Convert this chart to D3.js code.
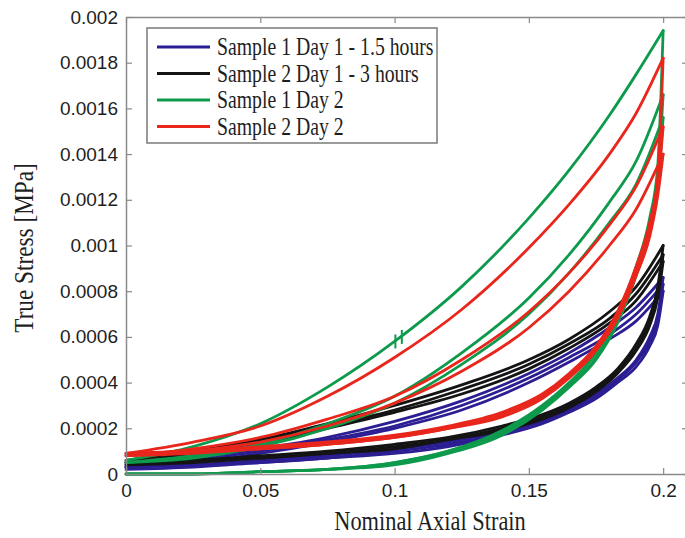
<!DOCTYPE html>
<html>
<head>
<meta charset="utf-8">
<script src="https://cdn.jsdelivr.net/npm/d3@7/dist/d3.min.js"></script>
<style>
  html, body { margin: 0; padding: 0; background: #fff; }
  svg { display: block; }
</style>
</head>
<body>
<svg id="chart" width="685" height="538"></svg>
<script>
// ---- data: cyclic loading / unloading of four specimens ----
const seriesNames = ["Sample 1 Day 1 - 1.5 hours", "Sample 2 Day 1 - 3 hours", "Sample 1 Day 2", "Sample 2 Day 2"];
const seriesColors = ["#2b1d92", "#141414", "#0e9a4c", "#e8261c"];

const xTickValues = [0, 0.05, 0.1, 0.15, 0.2];
const xTickLabels = ["0", "0.05", "0.1", "0.15", "0.2"];
const yTickValues = [0, 0.0002, 0.0004, 0.0006, 0.0008, 0.001, 0.0012, 0.0014, 0.0016, 0.0018, 0.002];
const yTickLabels = ["0", "0.0002", "0.0004", "0.0006", "0.0008", "0.001", "0.0012", "0.0014", "0.0016", "0.0018", "0.002"];

// strain samples for the loading branches
const strainLoad = [0, 0.025, 0.05, 0.075, 0.1, 0.125, 0.15, 0.165, 0.18, 0.19, 0.2];
// strain samples for the unloading branches
const strainUnload = [0, 0.025, 0.05, 0.075, 0.1, 0.12, 0.14, 0.155, 0.165, 0.175, 0.183, 0.19, 0.195, 0.198, 0.2];

// Sample 1 Day 1 - 1.5 hours (stress, MPa)
const blueLoad = [
  [0.00004, 0.00007, 0.00011, 0.00016, 0.00023, 0.00032, 0.00044, 0.00053, 0.00064, 0.00073, 0.00086],
  [0.00003, 0.00006, 0.00010, 0.00015, 0.00021, 0.00030, 0.00042, 0.00051, 0.00061, 0.00070, 0.00083],
  [0.00003, 0.00005, 0.00009, 0.00014, 0.00020, 0.00028, 0.00040, 0.00049, 0.00059, 0.00067, 0.00080]
];
const blueUnload = [
  [0.00003, 0.00004, 0.00006, 0.00008, 0.00011, 0.00014, 0.00019, 0.00024, 0.00029, 0.00035, 0.00042, 0.00050, 0.00060, 0.00070, 0.00086],
  [0.00003, 0.00004, 0.00005, 0.00007, 0.00010, 0.00013, 0.00018, 0.00023, 0.00028, 0.00034, 0.00041, 0.00049, 0.00058, 0.00068, 0.00083],
  [0.00002, 0.00003, 0.00005, 0.00007, 0.00009, 0.00012, 0.00017, 0.00022, 0.00027, 0.00033, 0.00040, 0.00047, 0.00056, 0.00065, 0.00080]
];

// Sample 2 Day 1 - 3 hours
const blackLoad = [
  [0.00006, 0.00010, 0.00015, 0.00022, 0.00030, 0.00039, 0.00050, 0.00059, 0.00071, 0.00082, 0.00100],
  [0.00005, 0.00009, 0.00014, 0.00021, 0.00028, 0.00037, 0.00048, 0.00057, 0.00068, 0.00079, 0.00096],
  [0.00005, 0.00008, 0.00013, 0.00020, 0.00027, 0.00035, 0.00046, 0.00055, 0.00066, 0.00076, 0.00093]
];
const blackUnload = [
  [0.00005, 0.00006, 0.00008, 0.00010, 0.00013, 0.00016, 0.00021, 0.00026, 0.00031, 0.00038, 0.00046, 0.00057, 0.00069, 0.00082, 0.00100],
  [0.00005, 0.00006, 0.00007, 0.00009, 0.00012, 0.00015, 0.00020, 0.00025, 0.00030, 0.00037, 0.00045, 0.00055, 0.00067, 0.00079, 0.00096],
  [0.00004, 0.00005, 0.00007, 0.00009, 0.00011, 0.00015, 0.00019, 0.00024, 0.00029, 0.00036, 0.00044, 0.00054, 0.00065, 0.00077, 0.00093]
];

// Sample 1 Day 2
const greenLoad = [
  [0.00006, 0.00012, 0.00022, 0.00038, 0.00058, 0.00082, 0.00112, 0.00133, 0.00157, 0.00175, 0.00194],
  [0.00005, 0.00008, 0.00013, 0.00022, 0.00034, 0.00053, 0.00077, 0.00096, 0.00119, 0.00137, 0.00166],
  [0.00005, 0.00007, 0.00012, 0.00020, 0.00031, 0.00048, 0.00070, 0.00088, 0.00110, 0.00127, 0.00156]
];
const greenUnload = [
  [0.00000, 0.00000, 0.00001, 0.00002, 0.00005, 0.00010, 0.00019, 0.00030, 0.00040, 0.00053, 0.00070, 0.00091, 0.00112, 0.00135, 0.00194],
  [0.00000, 0.00000, 0.00001, 0.00002, 0.00005, 0.00010, 0.00018, 0.00029, 0.00039, 0.00051, 0.00068, 0.00089, 0.00109, 0.00130, 0.00166],
  [0.00000, 0.00000, 0.00001, 0.00002, 0.00004, 0.00009, 0.00017, 0.00028, 0.00038, 0.00050, 0.00066, 0.00087, 0.00106, 0.00126, 0.00156]
];

// Sample 2 Day 2
const redLoad = [
  [0.00009, 0.00014, 0.00021, 0.00034, 0.00051, 0.00072, 0.00099, 0.00118, 0.00140, 0.00158, 0.00182],
  [0.00008, 0.00011, 0.00016, 0.00024, 0.00034, 0.00050, 0.00071, 0.00088, 0.00109, 0.00126, 0.00152],
  [0.00008, 0.00010, 0.00014, 0.00021, 0.00031, 0.00045, 0.00064, 0.00080, 0.00100, 0.00116, 0.00140]
];
const redUnload = [
  [0.00009, 0.00010, 0.00012, 0.00014, 0.00017, 0.00021, 0.00027, 0.00035, 0.00044, 0.00056, 0.00071, 0.00091, 0.00110, 0.00130, 0.00182],
  [0.00009, 0.00010, 0.00011, 0.00013, 0.00016, 0.00020, 0.00026, 0.00034, 0.00043, 0.00055, 0.00069, 0.00089, 0.00107, 0.00126, 0.00152],
  [0.00008, 0.00009, 0.00011, 0.00013, 0.00016, 0.00020, 0.00025, 0.00033, 0.00042, 0.00054, 0.00068, 0.00087, 0.00104, 0.00122, 0.00140]
];

// two small marks sitting on the first Day 2 loading branch
const markStrain = [0.1003, 0.1027];
const markStress = [0.00058, 0.00060];

// ---- layout ----
const svg = d3.select("#chart");
const x = d3.scaleLinear().domain([0, 0.21]).range([126, 690]);
const y = d3.scaleLinear().domain([0, 0.002]).range([474, 17]);

const frameColor = "#8a8a8a";
const tickFont = "'Liberation Sans', Arial, sans-serif";
const serifFont = "'Liberation Serif', 'Times New Roman', serif";

// ---- curves ----
const line = d3.line()
  .x(d => x(d[0]))
  .y(d => y(d[1]))
  .curve(d3.curveMonotoneX);

const groups = [
  { load: blueLoad, unload: blueUnload },
  { load: blackLoad, unload: blackUnload },
  { load: greenLoad, unload: greenUnload },
  { load: redLoad, unload: redUnload }
];

const plot = svg.append("g");
groups.forEach((g, i) => {
  const sg = plot.append("g")
    .attr("fill", "none")
    .attr("stroke", seriesColors[i])
    .attr("stroke-width", 2.8)
    .attr("stroke-linejoin", "round")
    .attr("stroke-linecap", "round");
  g.unload.forEach(vals => {
    sg.append("path").attr("d", line(strainUnload.map((s, k) => [s, vals[k]])));
  });
  g.load.forEach(vals => {
    sg.append("path").attr("d", line(strainLoad.map((s, k) => [s, vals[k]])));
  });
});

plot.selectAll("line.mark")
  .data(markStrain.map((s, k) => [s, markStress[k]]))
  .join("line")
  .attr("class", "mark")
  .attr("x1", d => x(d[0])).attr("x2", d => x(d[0]))
  .attr("y1", d => y(d[1]) - 7).attr("y2", d => y(d[1]) + 7)
  .attr("stroke", seriesColors[2])
  .attr("stroke-width", 2);

// ---- axes (ticks point inwards, box all round) ----
function styleAxis(g) {
  g.selectAll(".domain").attr("stroke", frameColor).attr("stroke-width", 1.5);
  g.selectAll(".tick line").attr("stroke", frameColor).attr("stroke-width", 1.2);
  g.selectAll("text").attr("font-family", tickFont).attr("font-size", 19).attr("fill", "#1e1e1e");
}

svg.append("g")
  .attr("transform", `translate(0,${y(0)})`)
  .call(d3.axisBottom(x).tickValues(xTickValues).tickFormat((d, i) => xTickLabels[i])
    .tickSizeInner(-6).tickSizeOuter(0).tickPadding(10))
  .call(styleAxis);

svg.append("g")
  .attr("transform", `translate(0,${y(0.002)})`)
  .call(d3.axisTop(x).tickValues(xTickValues).tickFormat("")
    .tickSizeInner(-6).tickSizeOuter(0))
  .call(styleAxis);

svg.append("g")
  .attr("transform", `translate(${x(0)},0)`)
  .call(d3.axisLeft(y).tickValues(yTickValues).tickFormat((d, i) => yTickLabels[i])
    .tickSizeInner(-6).tickSizeOuter(0).tickPadding(8))
  .call(styleAxis);

svg.append("g")
  .attr("transform", `translate(${x(0.21)},0)`)
  .call(d3.axisRight(y).tickValues(yTickValues).tickFormat("")
    .tickSizeInner(-8).tickSizeOuter(0))
  .call(styleAxis);

// ---- axis titles ----
svg.append("text")
  .attr("transform", "translate(430,530) scale(0.8,1)")
  .attr("text-anchor", "middle")
  .attr("font-family", serifFont)
  .attr("font-size", 28)
  .attr("fill", "#1e1e1e")
  .text("Nominal Axial Strain");

svg.append("text")
  .attr("transform", "translate(33,248) rotate(-90) scale(0.83,1)")
  .attr("text-anchor", "middle")
  .attr("font-family", serifFont)
  .attr("font-size", 28)
  .attr("fill", "#1e1e1e")
  .text("True Stress [MPa]");

// ---- legend ----
const legend = svg.append("g").attr("transform", "translate(147,28)");
legend.append("rect")
  .attr("width", 290).attr("height", 115)
  .attr("fill", "#fff")
  .attr("stroke", "#7a7a7a")
  .attr("stroke-width", 1.5);

const rows = legend.selectAll("g.row")
  .data(seriesNames)
  .join("g")
  .attr("class", "row")
  .attr("transform", (d, i) => `translate(0,${19 + i * 26.5})`);

rows.append("line")
  .attr("x1", 10).attr("x2", 63)
  .attr("stroke", (d, i) => seriesColors[i])
  .attr("stroke-width", 2.8);

rows.append("text")
  .attr("transform", "translate(70,8) scale(0.79,1)")
  .attr("font-family", serifFont)
  .attr("font-size", 25)
  .attr("fill", "#1e1e1e")
  .text(d => d);
</script>
</body>
</html>
